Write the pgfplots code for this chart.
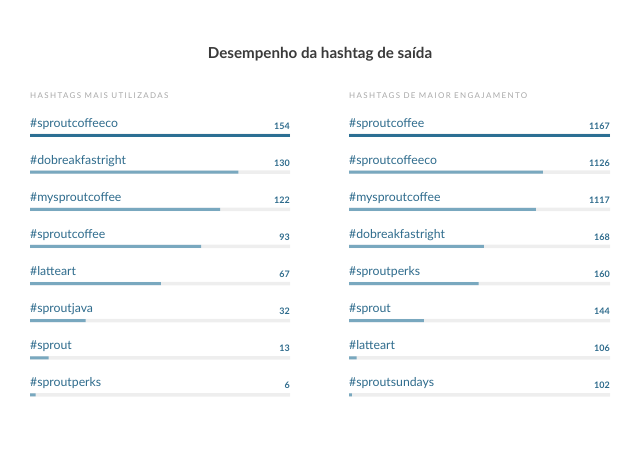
\documentclass[border=0pt]{standalone}
\usepackage{fontspec}
\setmainfont{Lato}
\usepackage{pgfplots}
\usepackage{pgfplotstable}
\pgfplotsset{compat=1.18}

\definecolor{titlegray}{HTML}{3A3A3A}
\definecolor{headgray}{HTML}{A8A8A8}
\definecolor{tagblue}{HTML}{2E6B8C}
\definecolor{topbar}{HTML}{2C6F93}
\definecolor{bar}{HTML}{79A8BF}
\definecolor{track}{HTML}{EEEEEE}

% row, hashtag (without #), shown value, bar length (% of track)
\pgfplotstableread{
row tag value len
1 sproutcoffeeco 154 100
2 dobreakfastright 130 80.1
3 mysproutcoffee 122 73.1
4 sproutcoffee 93 65.8
5 latteart 67 50.3
6 sproutjava 32 21.4
7 sprout 13 7.2
8 sproutperks 6 2.2
}\lefttab

\pgfplotstableread{
row tag value len
1 sproutcoffee 1167 100
2 sproutcoffeeco 1126 74.3
3 mysproutcoffee 1117 71.6
4 dobreakfastright 168 51.7
5 sproutperks 160 49.7
6 sprout 144 28.7
7 latteart 106 2.9
8 sproutsundays 102 1.1
}\righttab

\pgfplotsset{
  panel/.style={
    anchor=north west, scale only axis,
    height=297.14bp,
    xmin=0, xmax=100, ymin=0.5, ymax=8.5,
    y dir=reverse, hide axis, clip=false,
  },
}

\newcommand{\panel}[1]{%
  \addplot[xbar, bar width=3.5bp, bar shift=0pt, fill=track, draw=none]
    table[x expr=100, y=row] {#1};
  \addplot[xbar, bar width=3bp, bar shift=0pt, fill=topbar, draw=none,
    skip coords between index={1}{8}]
    table[x=len, y=row] {#1};
  \addplot[xbar, bar width=3bp, bar shift=0pt, fill=bar, draw=none,
    skip coords between index={0}{1}]
    table[x=len, y=row] {#1};
  % hashtag names
  \addplot[draw=none, mark=none, point meta=explicit symbolic,
    nodes near coords={\#\pgfplotspointmeta},
    every node near coord/.append style={anchor=base west, inner sep=0pt,
      yshift=8bp, text=tagblue, font=\fontsize{12.3}{14}\selectfont}]
    table[x expr=0, y=row, meta=tag] {#1};
  % values
  \addplot[draw=none, mark=none, point meta=explicit symbolic,
    nodes near coords={\pgfplotspointmeta},
    every node near coord/.append style={anchor=base east, inner sep=0pt,
      yshift=6bp, text=tagblue, font=\fontsize{9}{11}\selectfont\bfseries}]
    table[x expr=100, y=row, meta=value] {#1};
}

\begin{document}
\begin{tikzpicture}
\path[use as bounding box] (0,0) rectangle (640bp,-451bp);

\node[anchor=base, inner sep=0pt, text=titlegray,
  font=\fontsize{15.2}{17}\selectfont\bfseries] at (320bp,-58bp)
  {Desempenho da hashtag de saída};

\node[anchor=base west, inner sep=0pt, text=headgray,
  font=\fontsize{8}{9}\selectfont\addfontfeature{LetterSpace=17}] at (30bp,-98bp)
  {HASHTAGS MAIS UTILIZADAS};
\node[anchor=base west, inner sep=0pt, text=headgray,
  font=\fontsize{8}{9}\selectfont\addfontfeature{LetterSpace=17}] at (349bp,-98bp)
  {HASHTAGS DE MAIOR ENGAJAMENTO};

\begin{axis}[panel, at={(30bp,-116.43bp)}, width=260bp]
\panel{\lefttab}
\end{axis}

\begin{axis}[panel, at={(349bp,-116.43bp)}, width=261bp]
\panel{\righttab}
\end{axis}
\end{tikzpicture}
\end{document}
